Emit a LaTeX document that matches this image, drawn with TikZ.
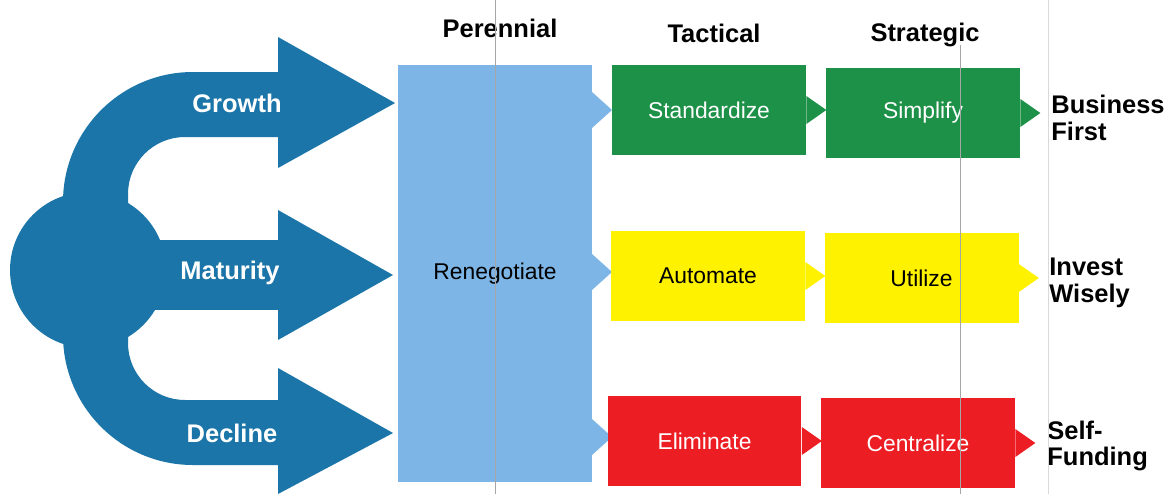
\documentclass[tikz,border=0pt]{standalone}
\usepackage{fontspec}
\setmainfont{Liberation Sans}
\usetikzlibrary{calc}

\definecolor{stemblue}{RGB}{27,117,168}
\definecolor{paleblue}{RGB}{125,181,230}
\definecolor{leafgreen}{RGB}{30,145,72}
\definecolor{signyellow}{RGB}{255,242,0}
\definecolor{stopred}{RGB}{236,30,36}

\tikzset{
  colhead/.style={font=\bfseries\fontsize{14.5}{16}\selectfont},
  phase/.style={text=white, font=\bfseries\fontsize{14.5}{16}\selectfont},
  stagebox/.style={minimum width=3.88cm, minimum height=1.8cm, inner sep=0pt,
    font=\fontsize{13}{15}\selectfont},
  outcome/.style={anchor=west, align=left, inner sep=0pt,
    font=\bfseries\fontsize{14.5}{15}\selectfont},
  scanline/.style={gray!70, line width=0.5pt}
}

\begin{document}
\begin{tikzpicture}[x=0.02cm, y=-0.02cm]
    \useasboundingbox (0,0) rectangle (1168,494);

    % column headings
    \node[colhead] (hper) at (500,28) {Perennial};
    \node[colhead] (htac) at (714,33) {Tactical};
    \node[colhead] (hstr) at (925,35) {Strategic};

    % left: three arrows out of one stem
    \fill[stemblue] (280,72) -- (193,72) arc[start angle=270, end angle=180, radius=130]
        -- (63,290) -- (128,290) -- (128,194) arc[start angle=180, end angle=270, radius=57]
        -- (280,137) -- cycle;
    \fill[stemblue] (280,465) -- (193,465) arc[start angle=90, end angle=180, radius=130]
        -- (63,250) -- (128,250) -- (128,343) arc[start angle=180, end angle=90, radius=57]
        -- (280,400) -- cycle;
    \fill[stemblue] (120,240) rectangle (280,310);
    \fill[stemblue] (88,270) circle (78);
    \fill[stemblue] (278,37) -- (395,103) -- (278,168) -- cycle;
    \fill[stemblue] (278,210) -- (393,275) -- (278,340) -- cycle;
    \fill[stemblue] (278,368) -- (393,433) -- (278,494) -- cycle;
    \node[phase] (grow) at (237,103) {Growth};
    \node[phase] (mat) at (230,273) {Maturity};
    \node[phase] (dec) at (232,433) {Decline};

    % perennial column
    \node[stagebox, fill=paleblue, minimum height=8.34cm] (reneg) at (495,273.5) {Renegotiate};
    \fill[paleblue] (592,92) -- (612,110) -- (592,128) -- cycle;
    \fill[paleblue] (592,254) -- (612,272) -- (592,290) -- cycle;
    \fill[paleblue] (592,419) -- (612,437) -- (592,455) -- cycle;

    % tactical and strategic boxes
    \node[stagebox, fill=leafgreen, text=white] (std) at (709,110) {Standardize};
    \node[stagebox, fill=leafgreen, text=white] (simp) at (923,113) {Simplify};
    \node[stagebox, fill=signyellow] (auto) at (708,276) {Automate};
    \node[stagebox, fill=signyellow] (util) at (921.5,278) {Utilize};
    \node[stagebox, fill=stopred, text=white] (elim) at (704.5,441) {Eliminate};
    \node[stagebox, fill=stopred, text=white] (cent) at (918,443) {Centralize};

    % pointer tips
    \fill[leafgreen] ($(std.east)+(0,-14)$) -- ($(std.east)+(20,0)$) -- ($(std.east)+(0,14)$) -- cycle;
    \fill[leafgreen] ($(simp.east)+(0,-14)$) -- ($(simp.east)+(20,0)$) -- ($(simp.east)+(0,14)$) -- cycle;
    \fill[signyellow] ($(auto.east)+(0,-14)$) -- ($(auto.east)+(20,0)$) -- ($(auto.east)+(0,14)$) -- cycle;
    \fill[signyellow] ($(util.east)+(0,-14)$) -- ($(util.east)+(20,0)$) -- ($(util.east)+(0,14)$) -- cycle;
    \fill[stopred] ($(elim.east)+(0,-14)$) -- ($(elim.east)+(20,0)$) -- ($(elim.east)+(0,14)$) -- cycle;
    \fill[stopred] ($(cent.east)+(0,-14)$) -- ($(cent.east)+(20,0)$) -- ($(cent.east)+(0,14)$) -- cycle;

    % outcomes
    \node[outcome] (bizfirst) at (1051,118) {Business\\First};
    \node[outcome] (invest) at (1049,283) {Invest\\Wisely};
    \node[outcome] (selffund) at (1047,446) {Self-\\Funding};

    % faint scan lines
    \draw[scanline] (495,0) -- (495,494);
    \draw[scanline] (960,45) -- (960,494);
    \draw[scanline, gray!30] (1048,0) -- (1048,494);
\end{tikzpicture}
\end{document}
